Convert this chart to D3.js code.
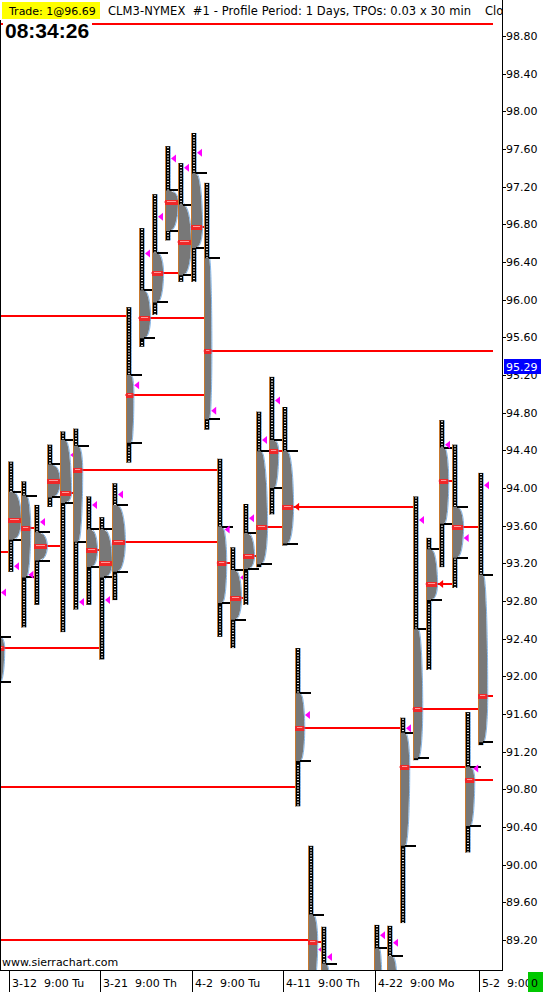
<!DOCTYPE html>
<html><head><meta charset="utf-8">
<script src="https://cdn.jsdelivr.net/npm/d3@7"></script>
<style>
body{margin:0;background:#fff;}
svg{display:block;font-family:"DejaVu Sans",sans-serif;}
</style>
</head><body>
<svg id="c" width="543" height="992"></svg>
<script>
// ---------- DATA ----------
const dates = ["3-11","3-12","3-13","3-14","3-15","3-18","3-19","3-20","3-21","3-22","3-25","3-26","3-27","3-28",
  "4-1","4-2","4-3","4-4","4-5","4-8","4-9","4-10","4-11","4-12","4-15","4-16","4-17","4-18","4-19",
  "4-22","4-23","4-24","4-25","4-26","4-29","4-30","5-1","5-2"];
const highs = [93.08,94.28,94.07,93.82,94.46,94.60,94.63,93.91,93.69,94.05,95.92,96.76,97.12,97.63,
  97.45,97.77,97.24,94.31,93.37,93.83,94.81,95.18,94.86,92.30,90.20,89.34,88.75,88.10,88.55,
  89.36,89.35,91.56,93.91,93.47,94.72,94.46,91.62,94.16];
const lows = [91.86,93.11,92.52,92.76,93.80,92.47,92.71,92.76,92.18,92.81,94.27,95.50,95.84,96.63,
  96.19,96.19,94.62,92.42,92.30,92.76,93.16,93.72,93.39,90.62,88.40,87.60,86.65,86.10,87.30,
  87.80,88.30,89.38,91.11,92.07,93.16,92.94,90.13,91.27];
const vaHigh = [92.42,93.96,93.92,93.53,94.25,94.51,94.45,93.56,93.56,93.82,95.20,96.10,96.50,97.16,
  97.01,97.34,96.44,93.59,93.13,93.52,94.39,94.51,94.39,91.82,89.47,88.95,88.20,87.70,88.30,
  89.11,89.03,91.40,92.50,93.35,94.43,93.80,91.04,93.08];
const vaLow = [91.94,93.45,93.05,93.23,93.90,93.84,93.43,93.16,93.05,93.11,94.48,95.59,95.97,96.73,
  96.26,96.55,94.73,92.78,92.60,93.14,93.19,94.00,93.41,91.10,88.75,88.05,87.10,86.60,87.60,
  88.30,88.50,90.20,91.13,92.81,93.62,93.26,90.41,91.30];
const pocs = [92.30,93.66,93.57,93.38,94.07,93.95,94.19,93.34,93.20,93.43,94.99,95.81,96.28,97.04,
  96.61,96.77,95.45,93.20,92.83,93.28,93.59,94.39,93.80,91.45,89.18,88.50,87.50,87.10,88.00,
  88.70,88.80,91.04,91.65,92.98,94.07,93.59,90.90,91.79];
const marks = [92.89,93.17,93.08,93.64,94.15,94.35,92.79,93.82,92.81,93.93,95.09,96.49,96.88,97.50,
  97.40,97.56,94.82,93.56,93.05,93.68,94.51,94.93,93.80,91.59,89.10,89.02,86.90,87.90,88.40,
  89.25,89.17,91.45,93.66,92.98,94.46,93.47,91.02,94.03];
const pocTPOs = [5,7,5,7,7,6,5,6,7,7,4,6,6,7,7,6,4,5,6,6,6,5,6,5,5,5,4,4,4,4,5,5,5,6,5,6,5,5];
const priorPOCs = [98.93,95.83,93.32,90.83,89.20];
const priceTicks = [89.2,89.6,90.0,90.4,90.8,91.2,91.6,92.0,92.4,92.8,93.2,93.6,94.0,94.4,94.8,95.2,95.6,96.0,96.4,96.8,97.2,97.6,98.0,98.4,98.8];
const timeLabelIdx = [1,8,15,22,29,37];
const timeLabelText = ["3-12  9:00 Tu","3-21  9:00 Th","4-2  9:00 Tu","4-11  9:00 Th","4-22  9:00 Mo","5-2  9:00"];
const lastPrice = 95.29;
const tradeText = "Trade: 1@96.69";
const titleText = "CLM3-NYMEX  #1 - Profile Period: 1 Days, TPOs: 0.03 x 30 min";
const clockText = "08:34:26";
const tickSize = 0.03;

// ---------- LAYOUT ----------
const svg = d3.select("#c");
const plotRight = 493, axisX = 502, plotBottom = 970;
const x = d3.scaleLinear().domain([1,37]).range([8,478]);
const y = d3.scaleLinear().domain([89.2,98.8]).range([940,36]);
const yr = v => Math.round(y(v));
const BASE = 5;

const defs = svg.append("defs");
defs.append("clipPath").attr("id","plot").append("rect").attr("x",0).attr("y",20).attr("width",plotRight).attr("height",plotBottom-20);
defs.append("clipPath").attr("id","hdr").append("rect").attr("x",0).attr("y",0).attr("width",axisX).attr("height",20);
defs.append("clipPath").attr("id","bot").append("rect").attr("x",0).attr("y",plotBottom).attr("width",528).attr("height",22);

const plot = svg.append("g").attr("clip-path","url(#plot)");

function widthAt(i,p){
  const maxW = pocTPOs[i]*1.85;
  if (p > vaHigh[i] + 1e-9 || p < vaLow[i] - 1e-9) return BASE;
  const half = p >= pocs[i] ? (vaHigh[i]-pocs[i]) : (pocs[i]-vaLow[i]);
  const t = half > 0 ? Math.abs(p-pocs[i])/half : 0;
  return BASE + (maxW-BASE)*Math.sqrt(Math.max(0,1-t*t));
}
function pocEnd(price, start){
  for (let j = start+1; j < dates.length; j++){
    if (lows[j] <= price && price <= highs[j]) return x(j)+3;
  }
  return plotRight;
}

// prior (off-chart) naked POCs
priorPOCs.forEach(p=>{
  plot.append("rect").attr("x",0).attr("y",yr(p)-1).attr("width",pocEnd(p,-1)).attr("height",2).attr("fill","#ff0000");
});
// day POC lines
dates.forEach((d,i)=>{
  const x0 = x(i), e = pocEnd(pocs[i], i);
  plot.append("rect").attr("x",x0).attr("y",yr(pocs[i])-1).attr("width",Math.max(0,e-x0)).attr("height",2).attr("fill","#ff0000");
});

// profiles
dates.forEach((d,i)=>{
  const x0 = Math.round(x(i));
  const g = plot.append("g");
  const yH = y(highs[i]), yL = y(lows[i]);
  g.append("rect").attr("x",x0).attr("y",yH).attr("width",BASE).attr("height",yL-yH).attr("fill","#000");
  const m = Math.round((highs[i]-lows[i])/tickSize);
  for (let k=0;k<m;k++){
    const p = highs[i]-k*tickSize;
    if (p > vaHigh[i] || p < vaLow[i]) {
      g.append("rect").attr("x",x0+2).attr("y",y(p)+1).attr("width",2).attr("height",1).attr("fill","#f0f0f0");
    }
  }
  const pts = [];
  const n = Math.round((vaHigh[i]-vaLow[i])/tickSize);
  for (let k=0;k<=n;k++){ const p = vaHigh[i]-k*(vaHigh[i]-vaLow[i])/n; pts.push([x0+widthAt(i,p), y(p)]); }
  const poly = [[x0,y(vaHigh[i])]].concat(pts).concat([[x0,y(vaLow[i])]]);
  g.append("path").attr("d","M"+poly.map(q=>q.join(",")).join("L")+"Z").attr("fill","#787878");
  const ol = [];
  for (let k=0;k<=m;k++){ const p = highs[i]-k*(highs[i]-lows[i])/m; ol.push([x0+widthAt(i,p)+0.5, y(p)]); }
  g.append("path").attr("d","M"+ol.map(q=>q.join(",")).join("L")).attr("fill","none").attr("stroke","#5b9ee0").attr("stroke-width",1).attr("opacity",0.75);
  g.append("rect").attr("x",x0).attr("y",yH).attr("width",1).attr("height",yL-yH).attr("fill","#c8782c");
  g.append("rect").attr("x",x0).attr("y",yr(pocs[i])-2).attr("width",widthAt(i,pocs[i])).attr("height",5).attr("fill","#f02828");
  g.append("rect").attr("x",x0+2).attr("y",yr(pocs[i])-1).attr("width",Math.max(1,widthAt(i,pocs[i])-4)).attr("height",1).attr("fill","#ff9a9a");
  [vaHigh[i], vaLow[i]].forEach(v=>{
    g.append("rect").attr("x",x0+BASE).attr("y",yr(v)-1).attr("width",11).attr("height",2).attr("fill","#000");
  });
  const tx = x0 + widthAt(i,marks[i]) + 1, ty = y(marks[i]);
  const isPoc = Math.abs(marks[i]-pocs[i]) < 0.005;
  g.append("path").attr("d",`M${tx},${ty}L${tx+5},${ty-4}L${tx+5},${ty+4}Z`).attr("fill", isPoc ? "#ff0000" : "#ff00ff");
});

// ---------- AXES ----------
svg.append("rect").attr("x",axisX).attr("y",0).attr("width",1).attr("height",plotBottom+1).attr("fill","#000");
svg.append("rect").attr("x",0).attr("y",plotBottom).attr("width",axisX+1).attr("height",1).attr("fill","#000");
svg.append("rect").attr("x",0).attr("y",20).attr("width",1).attr("height",plotBottom-20).attr("fill","#000");

const ya = svg.append("g");
priceTicks.forEach(v=>{
  ya.append("rect").attr("x",axisX+1).attr("y",yr(v)).attr("width",3).attr("height",1).attr("fill","#000");
  ya.append("text").attr("x",506).attr("y",yr(v)+4).attr("font-size",11).attr("fill","#000").text(v.toFixed(2));
});
ya.append("rect").attr("x",504).attr("y",yr(lastPrice)-8).attr("width",37).attr("height",15).attr("fill","#0000ff");
ya.append("text").attr("x",506).attr("y",yr(lastPrice)+4).attr("font-size",11).attr("fill","#fff").text(lastPrice.toFixed(2));

const xa = svg.append("g").attr("clip-path","url(#bot)");
timeLabelIdx.forEach((d,k)=>{
  const sx = Math.round(x(d))+1;
  xa.append("rect").attr("x",sx).attr("y",plotBottom).attr("width",1).attr("height",22).attr("fill","#000");
  xa.append("text").attr("x",sx+3).attr("y",987).attr("font-size",11).attr("fill","#000").attr("xml:space","preserve").style("white-space","pre").text(timeLabelText[k]);
});
svg.append("rect").attr("x",528).attr("y",972).attr("width",15).attr("height",20).attr("fill","#00c800");
svg.append("text").attr("x",531).attr("y",987).attr("font-size",11).attr("fill","#000").text("0");

svg.append("text").attr("x",2).attr("y",966).attr("font-size",11).attr("fill","#000").text("www.sierrachart.com");

svg.append("rect").attr("x",2).attr("y",2).attr("width",98).attr("height",17).attr("fill","#ffff00");
svg.append("text").attr("x",9).attr("y",15).attr("font-size",11).attr("fill","#000").text(tradeText);
const hg = svg.append("g").attr("clip-path","url(#hdr)");
hg.append("text").attr("x",108).attr("y",15).attr("font-size",11.5).attr("fill","#000").attr("xml:space","preserve").style("white-space","pre")
  .attr("textLength",363).attr("lengthAdjust","spacing").text(titleText);
hg.append("text").attr("x",485).attr("y",15).attr("font-size",11.5).attr("fill","#000").text("Close");
svg.append("rect").attr("x",3).attr("y",20).attr("width",89).attr("height",21).attr("fill","#fff");
svg.append("text").attr("x",5).attr("y",38).attr("font-family","'Liberation Sans',Arial,sans-serif").attr("font-weight","bold").attr("font-size",21).attr("fill","#000").text(clockText);
</script>
</body></html>
